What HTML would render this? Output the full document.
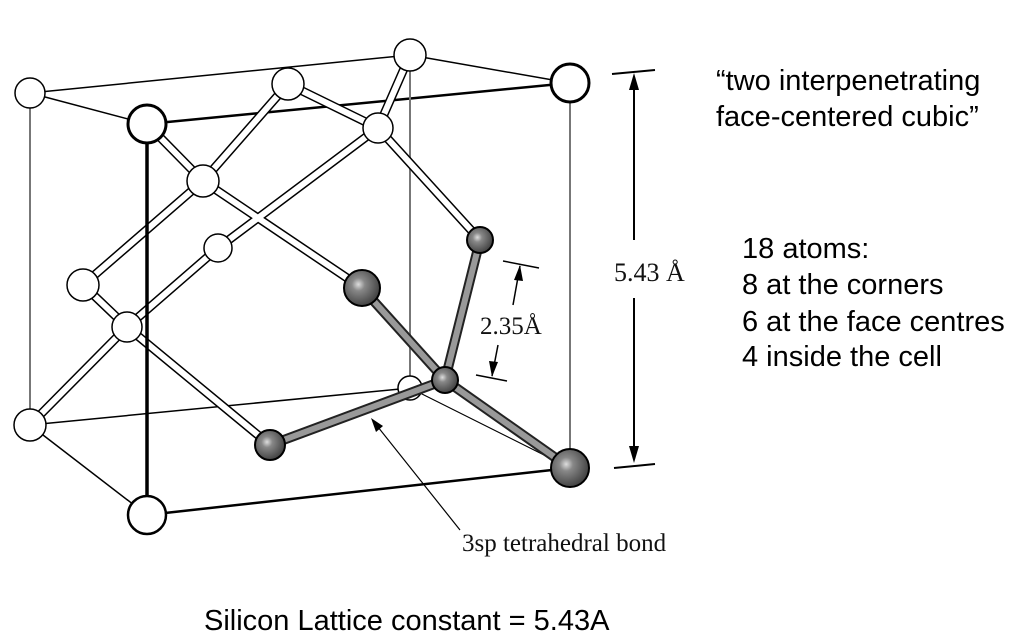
<!DOCTYPE html>
<html><head><meta charset="utf-8"><style>
html,body{margin:0;padding:0;background:#fff;}
svg{display:block;}
.s{font-family:"Liberation Sans",sans-serif;font-size:29px;fill:#000;}
.r{font-family:"Liberation Serif",serif;fill:#111;}
</style></head><body>
<svg width="1021" height="642" viewBox="0 0 1021 642">
<defs>
<radialGradient id="dk" cx="0.4" cy="0.4" r="0.6"><stop offset="0" stop-color="#ddd"/><stop offset="0.3" stop-color="#888"/><stop offset="1" stop-color="#444"/></radialGradient>
</defs>
<g stroke="#000" fill="none">
<line x1="30" y1="93" x2="410" y2="55" stroke-width="1.5"/>
<line x1="410" y1="55" x2="570" y2="83" stroke-width="1.5"/>
<line x1="30" y1="93" x2="147" y2="124" stroke-width="1.5"/>
<line x1="147" y1="124" x2="570" y2="83" stroke-width="2.5"/>
<line x1="30" y1="93" x2="30" y2="425" stroke="#777" stroke-width="2"/>
<line x1="570" y1="83" x2="570" y2="468" stroke="#777" stroke-width="2"/>
<line x1="410" y1="55" x2="410" y2="388" stroke="#777" stroke-width="2"/>
<line x1="30" y1="425" x2="147" y2="515" stroke-width="1.5"/>
<line x1="30" y1="425" x2="410" y2="388" stroke-width="1.5"/>
<line x1="410" y1="388" x2="570" y2="468" stroke-width="1.2"/>
<line x1="147" y1="515" x2="570" y2="468" stroke-width="2.5"/>
</g>
<g stroke-linecap="round">
<g stroke="#000" stroke-width="9">
<line x1="410" y1="55" x2="378" y2="128"/><line x1="288" y1="84" x2="378" y2="128"/>
<line x1="378" y1="128" x2="218" y2="248"/><line x1="378" y1="128" x2="480" y2="240"/>
<line x1="203" y1="181" x2="147" y2="124"/><line x1="203" y1="181" x2="288" y2="84"/>
<line x1="203" y1="181" x2="362" y2="288"/><line x1="203" y1="181" x2="83" y2="285"/>
<line x1="218" y1="248" x2="127" y2="327"/><line x1="83" y1="285" x2="127" y2="327"/>
<line x1="127" y1="327" x2="30" y2="425"/><line x1="127" y1="327" x2="270" y2="445"/>
</g>
<g stroke="#fff" stroke-width="6">
<line x1="410" y1="55" x2="378" y2="128"/><line x1="288" y1="84" x2="378" y2="128"/>
<line x1="378" y1="128" x2="218" y2="248"/><line x1="378" y1="128" x2="480" y2="240"/>
<line x1="203" y1="181" x2="147" y2="124"/><line x1="203" y1="181" x2="288" y2="84"/>
<line x1="203" y1="181" x2="362" y2="288"/><line x1="203" y1="181" x2="83" y2="285"/>
<line x1="218" y1="248" x2="127" y2="327"/><line x1="83" y1="285" x2="127" y2="327"/>
<line x1="127" y1="327" x2="30" y2="425"/><line x1="127" y1="327" x2="270" y2="445"/>
</g>
</g>
<line x1="147" y1="124" x2="147" y2="515" stroke="#000" stroke-width="3.5"/>
<circle cx="410" cy="388" r="12" fill="#fff" stroke="#000" stroke-width="1.5"/>
<g stroke-linecap="round">
<g stroke="#222" stroke-width="10">
<line x1="445" y1="380" x2="362" y2="288"/><line x1="445" y1="380" x2="480" y2="240"/>
<line x1="445" y1="380" x2="270" y2="445"/><line x1="445" y1="380" x2="570" y2="468"/>
</g>
<g stroke="#999" stroke-width="6">
<line x1="445" y1="380" x2="362" y2="288"/><line x1="445" y1="380" x2="480" y2="240"/>
<line x1="445" y1="380" x2="270" y2="445"/><line x1="445" y1="380" x2="570" y2="468"/>
</g>
</g>
<g fill="#fff" stroke="#000">
<circle cx="30" cy="93" r="15" stroke-width="1.5"/>
<circle cx="410" cy="55" r="16" stroke-width="1.5"/>
<circle cx="288" cy="84" r="16" stroke-width="1.5"/>
<circle cx="378" cy="128" r="15" stroke-width="1.5"/>
<circle cx="203" cy="181" r="16" stroke-width="1.5"/>
<circle cx="218" cy="248" r="14" stroke-width="1.5"/>
<circle cx="83" cy="285" r="16" stroke-width="1.5"/>
<circle cx="127" cy="327" r="15" stroke-width="1.5"/>
<circle cx="30" cy="425" r="16" stroke-width="1.5"/>
<circle cx="147" cy="124" r="19" stroke-width="3"/>
<circle cx="570" cy="83" r="19" stroke-width="3"/>
<circle cx="147" cy="515" r="19" stroke-width="2.5"/>
</g>
<g fill="url(#dk)" stroke="#000" stroke-width="2">
<circle cx="362" cy="288" r="18"/>
<circle cx="480" cy="240" r="13"/>
<circle cx="445" cy="380" r="13"/>
<circle cx="270" cy="445" r="15"/>
<circle cx="570" cy="468" r="19"/>
</g>
<g stroke="#000" stroke-width="2" fill="#000">
<line x1="612" y1="74" x2="655" y2="70"/>
<line x1="614" y1="468" x2="655" y2="464"/>
<line x1="634" y1="80" x2="634" y2="240"/>
<line x1="634" y1="298" x2="634" y2="455"/>
<polygon points="634,73 629,90 639,90" stroke="none"/>
<polygon points="634,463 629,446 639,446" stroke="none"/>
</g>
<text x="614" y="281" class="r" font-size="26">5.43 Å</text>
<g stroke="#000" stroke-width="1.5" fill="#000">
<line x1="503" y1="261" x2="539" y2="268"/>
<line x1="476" y1="375" x2="507" y2="381"/>
<line x1="520" y1="266" x2="513" y2="305"/>
<line x1="498" y1="345" x2="492" y2="376"/>
<polygon points="520,265 514,280 523,281" stroke="none"/>
<polygon points="492,377 489,361 498,362" stroke="none"/>
</g>
<text x="480" y="334" class="r" font-size="25">2.35Å</text>
<g stroke="#000" stroke-width="1.2" fill="#000">
<line x1="460" y1="530" x2="374" y2="422"/>
<polygon points="371,418 376,432 383,426" stroke="none"/>
</g>
<text x="462" y="551" class="r" font-size="25">3sp tetrahedral bond</text>
<text x="716" y="90" class="s">“two interpenetrating</text>
<text x="716" y="126" class="s">face-centered cubic”</text>
<g>
<text x="742" y="258" class="s">18 atoms:</text>
<text x="742" y="294" class="s">8 at the corners</text>
<text x="742" y="331" class="s">6 at the face centres</text>
<text x="742" y="366" class="s">4 inside the cell</text>
</g>
<text x="204" y="630" class="s">Silicon Lattice constant = 5.43A</text>
</svg>
</body></html>
